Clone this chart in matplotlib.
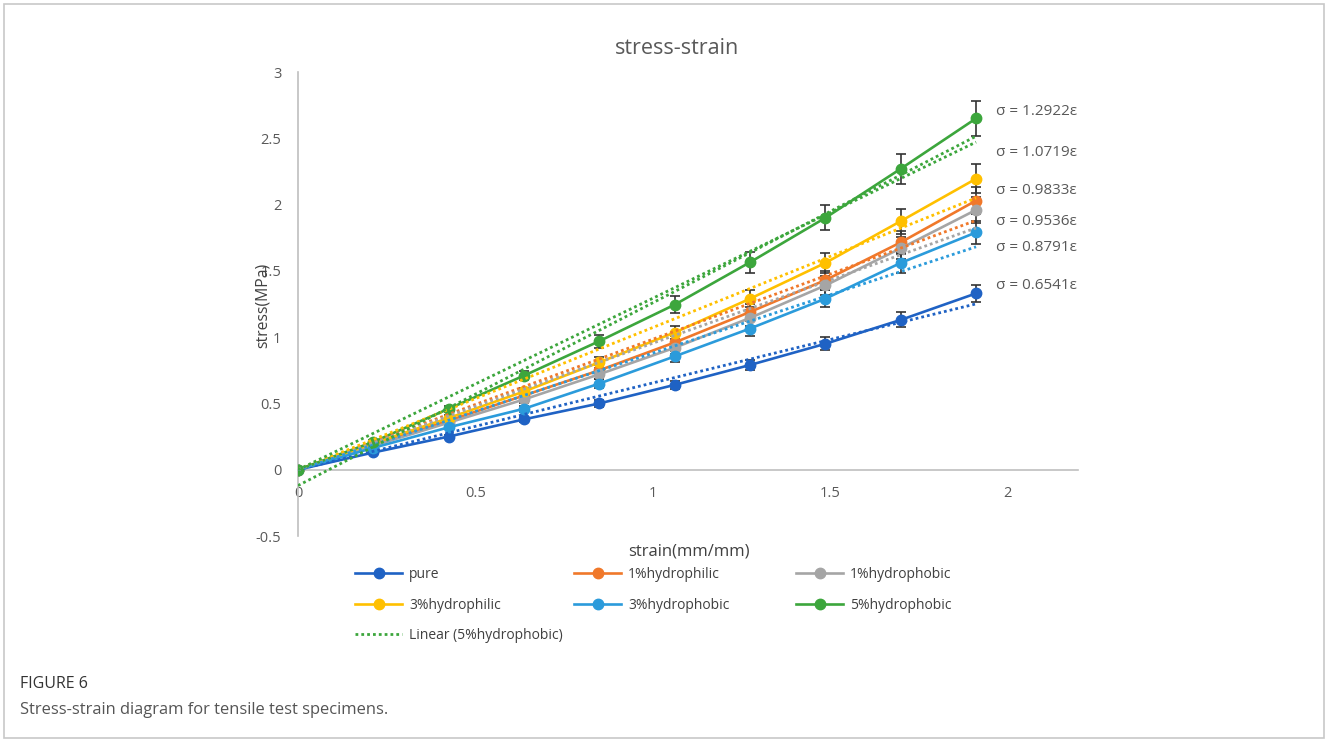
import numpy as np
import matplotlib.pyplot as plt
from matplotlib.patches import Rectangle

plt.rcParams['font.family'] = ['Open Sans', 'DejaVu Sans']

strain = np.array([0, 0.2125, 0.425, 0.6375, 0.85, 1.0625, 1.275, 1.4875, 1.7, 1.9125])

series_names = ['pure', '1%hydrophilic', '1%hydrophobic',
                '3%hydrophilic', '3%hydrophobic', '5%hydrophobic']
pure = [0, 0.13, 0.25, 0.38, 0.50, 0.64, 0.79, 0.95, 1.13, 1.33]
hphil_1 = [0, 0.19, 0.37, 0.56, 0.75, 0.96, 1.19, 1.43, 1.715, 2.03]
hphob_1 = [0, 0.18, 0.355, 0.53, 0.72, 0.92, 1.145, 1.39, 1.67, 1.96]
hphil_3 = [0, 0.20, 0.39, 0.59, 0.81, 1.035, 1.29, 1.56, 1.875, 2.195]
hphob_3 = [0, 0.165, 0.32, 0.46, 0.65, 0.855, 1.065, 1.29, 1.56, 1.79]
hphob_5 = [0, 0.21, 0.46, 0.71, 0.97, 1.245, 1.565, 1.90, 2.27, 2.65]
stress = [pure, hphil_1, hphob_1, hphil_3, hphob_3, hphob_5]

err_pct = 0.05  # percentage error bars

# slopes of the trendlines through the origin
slopes = [0.6541, 0.9833, 0.9536, 1.0719, 0.8791, 1.2922]
label_order = [1.2922, 1.0719, 0.9833, 0.9536, 0.8791, 0.6541]
label_y = [2.70, 2.39, 2.105, 1.87, 1.675, 1.39]

colors = ['#1F62C4', '#F0782A', '#A5A5A5', '#FFC000', '#2B9BDB', '#3CA63C']

W, H = 1328, 742
fig = plt.figure(figsize=(W / 100, H / 100), dpi=100)
ax = fig.add_axes([298 / W, 1 - 536 / H, 780 / W, 464 / H])

handles = []
for name, y, c in zip(series_names, stress, colors):
    y = np.array(y)
    ax.errorbar(strain, y, yerr=err_pct * y, fmt='none', ecolor='#333333',
                elinewidth=1.2, capsize=3.5, capthick=1.2, zorder=2)
    h, = ax.plot(strain, y, color=c, lw=1.9, marker='o', ms=7.5, label=name, zorder=3)
    handles.append(h)

xx = np.array([strain[0], strain[-1]])
for k, c in zip(slopes, colors):
    ax.plot(xx, k * xx, color=c, lw=2.0, ls=(0, (1, 1.1)), zorder=4)

# ordinary linear fit of the 5% hydrophobic series
p = np.polyfit(strain, hphob_5, 1)
lin, = ax.plot(xx, np.polyval(p, xx), color=colors[5], lw=2.0, ls=(0, (1, 1.1)),
               zorder=4, label='Linear (5%hydrophobic)')

for k, yl in zip(label_order, label_y):
    ax.text(1.97, yl, f'σ = {k:.4f}ε', fontsize=11, color='#595959',
            ha='left', va='center')

ax.set_xlim(0, 2.2)
ax.set_ylim(-0.5, 3)
ax.set_xticks([0, 0.5, 1, 1.5, 2])
ax.set_xticklabels(['0', '0.5', '1', '1.5', '2'])
ax.set_yticks([-0.5, 0, 0.5, 1, 1.5, 2, 2.5, 3])
ax.set_yticklabels(['-0.5', '0', '0.5', '1', '1.5', '2', '2.5', '3'])
ax.spines['top'].set_visible(False)
ax.spines['right'].set_visible(False)
ax.spines['bottom'].set_position(('data', 0))
for s in ['left', 'bottom']:
    ax.spines[s].set_color('#BFBFBF')
    ax.spines[s].set_linewidth(1.2)
ax.tick_params(axis='both', length=0, labelsize=10.5, labelcolor='#595959')
ax.tick_params(axis='x', pad=12)
ax.tick_params(axis='y', pad=12)

fig.text(677 / W, 1 - 48 / H, 'stress-strain', fontsize=15.5, color='#595959',
         ha='center', va='center')
fig.text(689 / W, 1 - 551 / H, 'strain(mm/mm)', fontsize=12, color='#404040',
         ha='center', va='center')
fig.text(263 / W, 1 - 305 / H, 'stress(MPa)', fontsize=11.3, color='#404040',
         ha='center', va='center', rotation=90)

# legend, three columns laid out like the original
cols = [[handles[0], handles[3], lin], [handles[1], handles[4]], [handles[2], handles[5]]]
col_x = [355, 574, 796]
for hs, x0 in zip(cols, col_x):
    leg = fig.legend(handles=hs, loc='upper left', bbox_to_anchor=(x0 / W, 1 - 567 / H),
                     frameon=False, fontsize=10, handlelength=3.4, handletextpad=0.5,
                     labelspacing=1.12, borderaxespad=0, borderpad=0)
    for t in leg.get_texts():
        t.set_color('#404040')

fig.text(20 / W, 1 - 684 / H, 'FIGURE 6', fontsize=11.5, color='#333333',
         ha='left', va='center', fontweight='medium')
fig.text(20 / W, 1 - 710 / H, 'Stress-strain diagram for tensile test specimens.',
         fontsize=11.9, color='#555555', ha='left', va='center')

fig.patches.append(Rectangle((4 / W, 4 / H), 1320 / W, 734 / H, transform=fig.transFigure,
                             fill=False, edgecolor='#C8C8C8', lw=1.2))

fig.savefig('out.png', dpi=100)
